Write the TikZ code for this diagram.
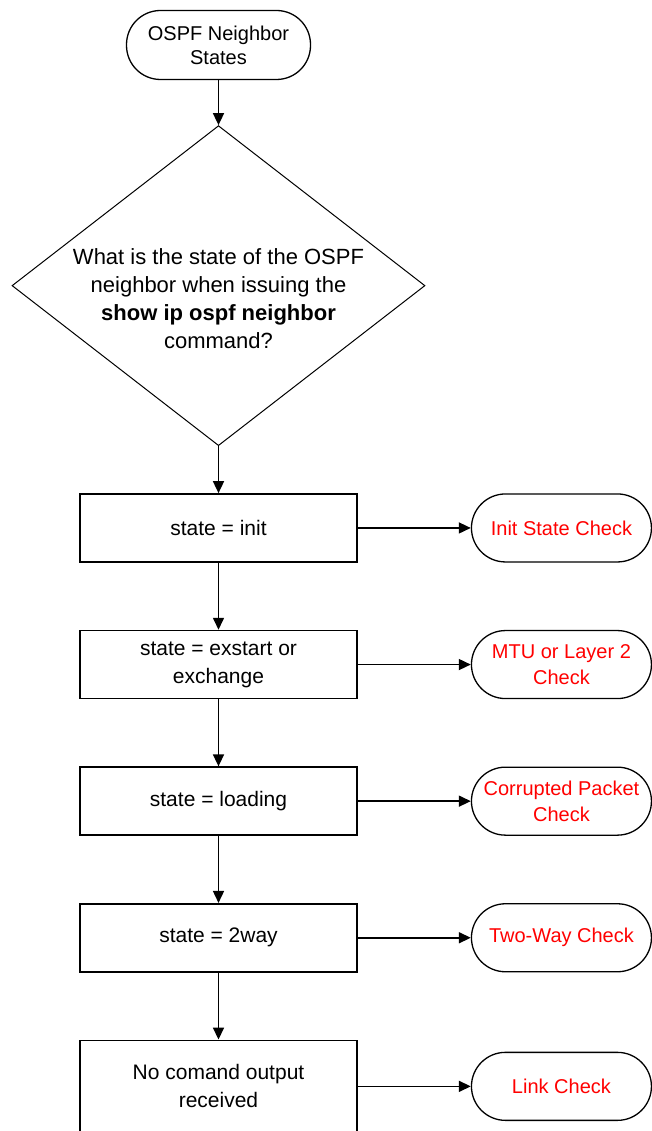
\documentclass[tikz,border=0pt]{standalone}
\usepackage{fontspec}
\setmainfont{Liberation Sans}
\usetikzlibrary{arrows.meta,positioning,shapes.geometric}
\begin{document}
\begin{tikzpicture}[x=1pt, y=1pt, >={Triangle[length=12pt,width=11pt]},
	Terminal/.style={draw, line width=1.3pt, rounded corners=34pt, minimum width=184pt, minimum height=69pt, align=center, font=\fontsize{20}{24}\selectfont},
	Decision/.style={draw, diamond, line width=1pt, minimum width=413pt, minimum height=320pt, inner sep=0pt},
	StateBox/.style={draw, line width=1.6pt, minimum width=277pt, minimum height=68pt, align=center, font=\fontsize{21}{28}\selectfont},
	CheckOval/.style={draw, line width=1.3pt, rounded corners=34pt, minimum width=180pt, minimum height=68pt, align=center, text=red, font=\fontsize{20}{26}\selectfont},
	Flow/.style={->, line width=1.6pt}]
	\useasboundingbox (0,0) rectangle (651,-1131);
	\node[Terminal] (start) at (218.5,-45) {OSPF Neighbor\\States};
	\node[Decision, below=45pt of start] (ask) {};
	\node[align=center, font=\fontsize{22}{28}\selectfont] (askText) at ([yshift=-13pt]ask.center) {What is the state of the OSPF\\neighbor when issuing the\\\textbf{show ip ospf neighbor}\\command?};
	\node[StateBox, below=47pt of ask] (init) {state = init};
	\node[StateBox, below=67pt of init] (exstart) {state = exstart or\\exchange};
	\node[StateBox, below=67pt of exstart] (loading) {state = loading};
	\node[StateBox, below=67pt of loading] (twoway) {state = 2way};
	\node[StateBox, minimum height=92pt, below=67pt of twoway] (none) {No comand output\\received};
	\node[CheckOval, right=113pt of init] (initCheck) {Init State Check};
	\node[CheckOval, right=113pt of exstart] (mtuCheck) {MTU or Layer 2\\Check};
	\node[CheckOval, right=113pt of loading] (packetCheck) {Corrupted Packet\\Check};
	\node[CheckOval, right=113pt of twoway] (twowayCheck) {Two-Way Check};
	\node[CheckOval, right=113pt of none] (linkCheck) {Link Check};
	\draw[Flow] (start) -- (ask);
	\draw[Flow] (ask) -- (init);
	\draw[Flow] (init) -- (exstart);
	\draw[Flow] (exstart) -- (loading);
	\draw[Flow] (loading) -- (twoway);
	\draw[Flow] (twoway) -- (none);
	\draw[Flow] (init) -- (initCheck);
	\draw[Flow] (exstart) -- (mtuCheck);
	\draw[Flow] (loading) -- (packetCheck);
	\draw[Flow] (twoway) -- (twowayCheck);
	\draw[Flow] (none) -- (linkCheck);
\end{tikzpicture}
\end{document}
